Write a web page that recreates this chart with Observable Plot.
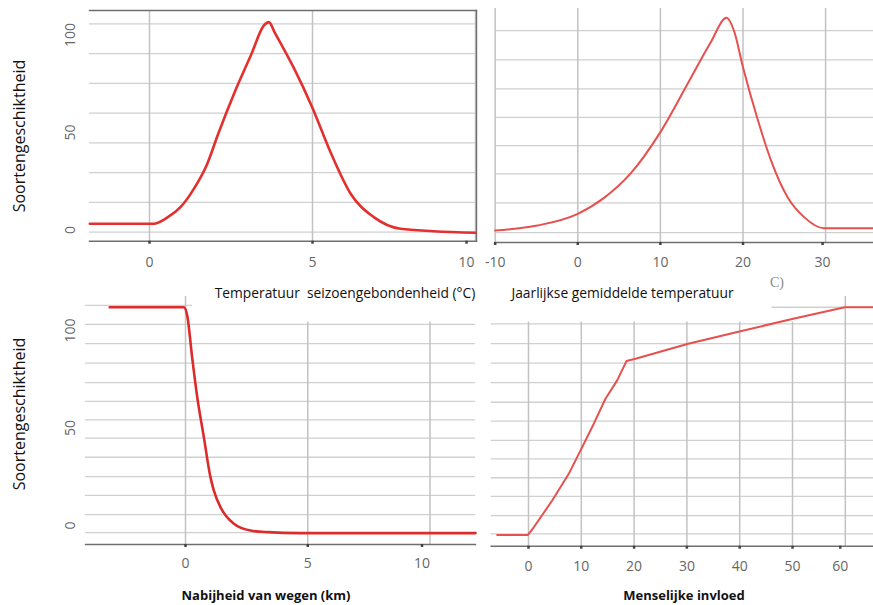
<!DOCTYPE html>
<html lang="nl">
<head>
<meta charset="utf-8">
<title>Soortengeschiktheid</title>
<script src="https://cdn.jsdelivr.net/npm/d3@7"></script>
<script src="https://cdn.jsdelivr.net/npm/@observablehq/plot@0.6"></script>
<style>
  html, body { margin: 0; padding: 0; background: #fff; }
  #figure { position: relative; width: 873px; height: 605px; overflow: hidden; font-family: "Open Sans", sans-serif; }
  #figure svg { position: absolute; left: 0; top: 0; }
  .label { position: absolute; white-space: pre; line-height: 1; transform: translate(-50%, -50%); color: #111; }
  .label.vertical { transform: translate(-50%, -50%) rotate(-90deg); font-size: 16px; }
  .label.axis { font-size: 13.8px; }
  .label.bold { font-size: 13px; font-weight: 700; }
  .label.stray { font-family: "Liberation Serif", serif; color: #8a8a8a; font-size: 14px; }
</style>
</head>
<body>
<div id="figure"></div>
<script>
// Seasonal temperature (°C) response
const seasonX = [-1.83, 0.13, 0.54, 0.95, 1.36, 1.77, 2.1, 2.59, 3.12, 3.51, 3.66, 3.85, 4.43, 4.99, 5.55, 6.17, 6.88, 7.7, 8.72, 10.0];
const seasonY = [3.2, 3.2, 6.3, 11.7, 21.1, 33.9, 49, 69.8, 90, 104.9, 106.6, 101, 83, 63, 40, 18.6, 6.6, 0.6, -0.6, -1.4];

// Annual mean temperature response
const annualX = [-10, -4.9, 0, 3.1, 6.4, 10, 13.3, 16.1, 18, 18.9, 20, 21.7, 23.4, 25.4, 27.4, 29.8, 35.8];
const annualY = [-0.3, 2.3, 8.3, 16.2, 29, 50.2, 75, 96.3, 108.8, 102.3, 83.5, 57.8, 35.6, 16.8, 6.6, 0.9, 0.9];

// Distance to roads (km) response
const roadX = [-3.10, -0.07, 0.07, 0.27, 0.48, 0.75, 1.02, 1.16, 1.43, 1.98, 2.66, 3.34, 4.70, 11.86];
const roadY = [111.9, 111.9, 107.7, 86.3, 65.8, 45.3, 24.8, 17.9, 9.4, 0.9, -2.6, -3.4, -3.9, -3.9];

// Human influence response
const humanX = [-5.93, -0.09, 1.0, 4.49, 7.63, 10.17, 12.37, 14.58, 16.8, 18.56, 20.27, 30.25, 40.15, 50.13, 59.9, 65.3];
const humanY = [-4.8, -4.8, -0.9, 12.8, 26.5, 40.2, 52.2, 65, 74.4, 84.3, 85.5, 93.2, 99.6, 106, 111.9, 111.9];

// Tick values
const seasonTicks = [0, 5, 10];
const annualTicks = [-10, 0, 10, 20, 30];
const roadTicks = [0, 5, 10];
const humanTicks = [0, 10, 20, 30, 40, 50, 60];
const suitabilityTicks = [0, 50, 100];

// Horizontal grid levels of each panel
const seasonGrid = [-1.1, 14.2, 29.4, 44.7, 59.9, 75.2, 90.4, 105.7];
const annualGrid = [-1.3, 13.9, 28.8, 43.3, 57.8, 72.4, 87.3, 102.3];
const roadGrid = [-3.7, 5.6, 15.4, 25.1, 35, 44.8, 54.2, 63.6, 73.2, 83.2, 93.2, 103.1];
const humanGrid = [-4.3, 5.1, 14.9, 24.5, 34.2, 43.6, 53.5, 63.2, 73.2, 83.2, 93.2, 103.4];

// Titles
const yTitle = "Soortengeschiktheid";
const xTitles = ["Temperatuur  seizoengebondenheid (°C)", "Jaarlijkse gemiddelde temperatuur", "Nabijheid van wegen (km)", "Menselijke invloed"];

const W = 873, H = 605;
const AXIS = "#6f6f6f", HGRID = "#d0d0d0", VGRID = "#c2c2c2", TICKTEXT = "#666";

const panels = [
  {xs: seasonX, ys: seasonY, xTicks: seasonTicks, yTicks: suitabilityTicks, grid: seasonGrid,
   xDomain: [-1.84, 10.03], yDomain: [-5.74, 112.56], margin: [10, 397, 364.3, 89],
   xPad: 13, yPad: 19, lastShift: -9, stroke: "#e3302e", strokeWidth: 2.6,
   frames: ["top", "right", "bottom"], curve: "monotone-x"},
  {xs: annualX, ys: annualY, xTicks: annualTicks, yTicks: null, grid: annualGrid,
   xDomain: [-9.96, 35.8], yDomain: [-6.41, 113.6], margin: [8, 0, 363, 495],
   xPad: 11.7, lastShift: -3, stroke: "#e6504e", strokeWidth: 2,
   frames: ["bottom"], curve: "monotone-x"},
  {xs: roadX, ys: roadY, xTicks: roadTicks, yTicks: suitabilityTicks, grid: roadGrid,
   xDomain: [-4.09, 11.86], yDomain: [-9.74, 117.4], margin: [296, 398, 61, 85],
   xPad: 10.7, yPad: 15, lastShift: -8, stroke: "#dd2a2a", strokeWidth: 2.6,
   frames: ["bottom"], curve: "monotone-x",
   gridTop: 104.3, fullTicks: [0], stub: {y: 112.8, x1: -4.09, x2: 0.29}},
  {xs: humanX, ys: humanY, xTicks: humanTicks, yTicks: null, grid: humanGrid,
   xDomain: [-7.06, 65.34], yDomain: [-10.6, 117.4], margin: [296, 0, 59.3, 490.7],
   xPad: 12.3, lastShift: -5, stroke: "#e6504e", strokeWidth: 2,
   frames: ["bottom"], curve: "linear",
   gridTop: 104.3, fullTicks: [60], stub: {y: 111.9, x1: 46.1, x2: 65.34}}
];

const figure = document.getElementById("figure");

for (const p of panels) {
  const rows = p.xs.map((x, i) => ({x, y: p.ys[i]}));
  const [top, bottom] = [p.yDomain[1], p.yDomain[0]];
  const vTop = (d) => (p.gridTop == null || p.fullTicks.includes(d)) ? top : p.gridTop;
  const head = p.xTicks.slice(0, -1), last = p.xTicks.slice(-1);
  const fmt = (d) => String(d);

  const marks = [
    Plot.ruleY(p.grid, {stroke: HGRID, strokeWidth: 1.3}),
    p.stub ? Plot.ruleY([p.stub.y], {x1: p.stub.x1, x2: p.stub.x2, stroke: HGRID, strokeWidth: 1.3}) : null,
    Plot.ruleX(p.xTicks, {x: (d) => d, y1: bottom, y2: vTop, stroke: VGRID, strokeWidth: 1.5}),
    ...p.frames.map((a) => Plot.frame({anchor: a, stroke: AXIS, strokeWidth: 1.4})),
    Plot.axisX(head, {tickSize: 3, tickPadding: p.xPad, stroke: "#444", strokeWidth: 2.5, fill: TICKTEXT, tickFormat: fmt, label: null}),
    Plot.axisX(last, {tickSize: 3, tickPadding: p.xPad, stroke: "#444", strokeWidth: 2.5, fill: TICKTEXT, tickFormat: fmt, label: null, dx: p.lastShift}),
    p.yTicks ? Plot.axisY(p.yTicks, {tickSize: 0, tickPadding: p.yPad, tickRotate: -90, textAnchor: "middle", lineAnchor: "middle", fill: TICKTEXT, tickFormat: fmt, label: null}) : null,
    Plot.line(rows, {x: "x", y: "y", stroke: p.stroke, strokeWidth: p.strokeWidth, curve: p.curve, strokeLinejoin: "round"})
  ].filter(Boolean);

  const svg = Plot.plot({
    width: W, height: H,
    marginTop: p.margin[0], marginRight: p.margin[1], marginBottom: p.margin[2], marginLeft: p.margin[3],
    x: {domain: p.xDomain, axis: null},
    y: {domain: p.yDomain, axis: null},
    style: {background: "none", fontFamily: "'Open Sans', sans-serif", fontSize: "14px", overflow: "visible"},
    marks
  });
  figure.appendChild(svg);
}

// Axis titles
const titles = [
  {text: yTitle, cls: "vertical", x: 18.5, y: 135.5},
  {text: yTitle, cls: "vertical", x: 18.5, y: 414},
  {text: xTitles[0], cls: "axis", x: 345, y: 293},
  {text: xTitles[1], cls: "axis", x: 622.5, y: 293},
  {text: "C)", cls: "stray", x: 777, y: 283},
  {text: xTitles[2], cls: "bold", x: 266, y: 595},
  {text: xTitles[3], cls: "bold", x: 684, y: 595}
];
for (const t of titles) {
  const el = document.createElement("div");
  el.className = "label " + t.cls;
  el.textContent = t.text;
  el.style.left = t.x + "px";
  el.style.top = t.y + "px";
  figure.appendChild(el);
}
</script>
</body>
</html>
